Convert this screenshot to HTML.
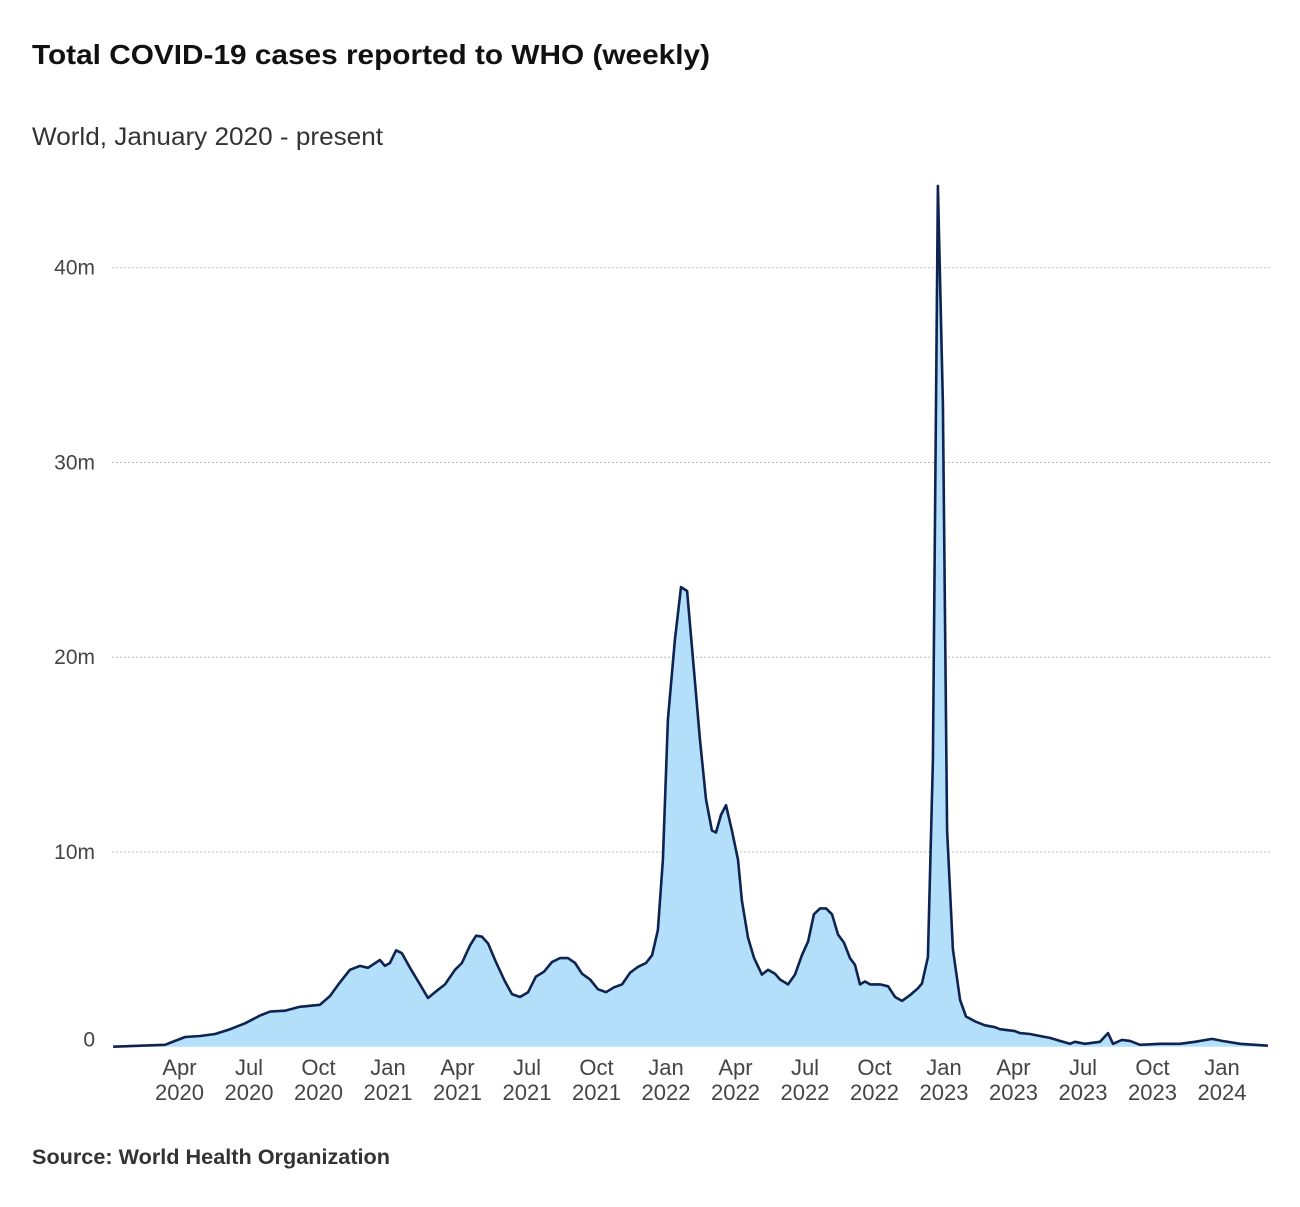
<!DOCTYPE html>
<html><head><meta charset="utf-8"><style>
body{margin:0;background:#fff;width:1300px;height:1202px;overflow:hidden;font-family:"Liberation Sans",sans-serif}
</style></head><body>
<svg width="1300" height="1202">
<text x="32" y="64" font-size="28" font-weight="bold" fill="#111" textLength="678" lengthAdjust="spacingAndGlyphs">Total COVID-19 cases reported to WHO (weekly)</text>
<text x="32" y="145" font-size="25" fill="#333" textLength="351" lengthAdjust="spacingAndGlyphs">World, January 2020 - present</text>
<text x="32" y="1164" font-size="21" font-weight="bold" fill="#333" textLength="358" lengthAdjust="spacingAndGlyphs">Source: World Health Organization</text>
<g id="grid"></g><g id="plot"></g><g id="xaxis"></g>
</svg>
<script>
const times=[0.011,0.198,0.234,0.270,0.324,0.378,0.432,0.486,0.540,0.576,0.629,0.683,0.755,0.791,0.827,0.863,0.899,0.928,0.971,0.989,1.007,1.029,1.050,1.079,1.115,1.144,1.169,1.205,1.241,1.266,1.295,1.317,1.338,1.360,1.388,1.421,1.446,1.475,1.504,1.532,1.561,1.590,1.619,1.647,1.673,1.698,1.727,1.755,1.784,1.813,1.842,1.871,1.899,1.928,1.950,1.971,1.989,2.007,2.032,2.054,2.076,2.097,2.122,2.144,2.165,2.180,2.198,2.216,2.237,2.259,2.273,2.295,2.317,2.345,2.367,2.392,2.410,2.439,2.464,2.489,2.511,2.532,2.554,2.576,2.597,2.619,2.640,2.662,2.680,2.698,2.716,2.734,2.770,2.799,2.824,2.849,2.878,2.906,2.921,2.942,2.960,2.978,2.996,3.011,3.032,3.058,3.079,3.112,3.147,3.183,3.201,3.255,3.273,3.309,3.345,3.381,3.417,3.453,3.471,3.507,3.561,3.590,3.608,3.640,3.669,3.705,3.777,3.849,3.903,3.964,4.000,4.065,4.165];
const cases=[0,0.1,0.3,0.5,0.55,0.65,0.9,1.2,1.6,1.8,1.85,2.05,2.15,2.6,3.3,3.95,4.15,4.05,4.45,4.15,4.3,4.95,4.8,4.05,3.2,2.5,2.8,3.2,3.95,4.3,5.2,5.7,5.65,5.3,4.35,3.35,2.7,2.55,2.8,3.6,3.85,4.35,4.55,4.55,4.3,3.75,3.45,2.95,2.8,3.05,3.2,3.8,4.1,4.3,4.7,6.0,9.6,16.8,20.9,23.6,23.4,19.9,15.8,12.7,11.1,11.0,11.9,12.4,11.1,9.6,7.5,5.6,4.55,3.7,3.95,3.75,3.45,3.2,3.7,4.7,5.4,6.8,7.1,7.1,6.8,5.75,5.35,4.55,4.2,3.2,3.35,3.2,3.2,3.1,2.55,2.35,2.65,3.0,3.25,4.6,14.7,44.2,33,11.1,5.0,2.4,1.55,1.3,1.1,1.0,0.9,0.8,0.7,0.65,0.55,0.45,0.3,0.15,0.25,0.15,0.25,0.7,0.15,0.35,0.3,0.1,0.15,0.15,0.25,0.4,0.3,0.15,0.05];
const yTicks=[0,10,20,30,40];
const yTickLabels=["0","10m","20m","30m","40m"];
const xTicks=[0.25,0.5,0.75,1,1.25,1.5,1.75,2,2.25,2.5,2.75,3,3.25,3.5,3.75,4];
const xMonths=["Apr","Jul","Oct","Jan","Apr","Jul","Oct","Jan","Apr","Jul","Oct","Jan","Apr","Jul","Oct","Jan"];
const xYears=["2020","2020","2020","2021","2021","2021","2021","2022","2022","2022","2022","2023","2023","2023","2023","2024"];
const NS="http://www.w3.org/2000/svg";
const xs=t=>110+t*278, ys=v=>1046.7-v*19.475;
function mk(tag,attrs,parent,text){const e=document.createElementNS(NS,tag);for(const k in attrs)e.setAttribute(k,attrs[k]);if(text!==undefined)e.textContent=text;parent.appendChild(e);return e;}
const grid=document.getElementById('grid'),plot=document.getElementById('plot'),xa=document.getElementById('xaxis');
yTicks.forEach((v,i)=>{
  if(v>0){const l=mk('line',{x1:112,x2:1270,y1:ys(v),y2:ys(v),stroke:'#bbb','stroke-dasharray':'2,2','stroke-width':1},grid);
  
  }
  const t=mk('text',{x:95,y:ys(v)+(v===0?0:7),'text-anchor':'end','font-size':21,fill:'#444'},grid,yTickLabels[i]);
  
  
});
let d='M'+xs(times[0])+','+ys(0);
let ld='';
times.forEach((t,i)=>{d+=' L'+xs(t).toFixed(1)+','+ys(cases[i]).toFixed(1);ld+=(i?' L':'M')+xs(t).toFixed(1)+','+ys(cases[i]).toFixed(1);});
d+=' L'+xs(times[times.length-1])+','+ys(0)+' Z';
const area=mk('path',{d:d,fill:'#b4dffb'},plot);


const line=mk('path',{d:ld,fill:'none',stroke:'#0e2350','stroke-width':2.6,'stroke-linejoin':'round'},plot);


xTicks.forEach((t,i)=>{
  const a=mk('text',{x:xs(t),y:1075,'text-anchor':'middle','font-size':22,fill:'#444'},xa,xMonths[i]);
  
  
  const b=mk('text',{x:xs(t),y:1100,'text-anchor':'middle','font-size':22,fill:'#444'},xa,xYears[i]);
  
  
});
</script>
</body></html>
